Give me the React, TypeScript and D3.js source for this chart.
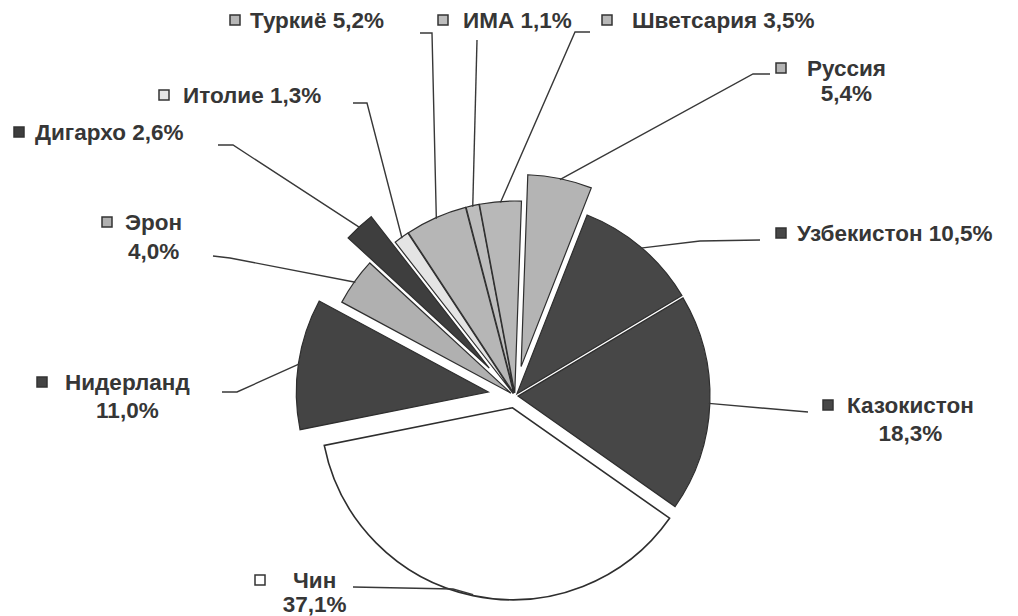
import React, { useEffect, useRef } from 'react'
import * as d3 from 'd3'

// export shares by country, %
const countries = [
  'Руссия',
  'Узбекистон',
  'Казокистон',
  'Чин',
  'Нидерланд',
  'Эрон',
  'Дигархо',
  'Итолие',
  'Туркиё',
  'ИМА',
  'Шветсария',
]
const shares = [5.4, 10.5, 18.3, 37.1, 11.0, 4.0, 2.6, 1.3, 5.2, 1.1, 3.5]

// styling per slice
const fills = ['#b4b4b4', '#474747', '#474747', '#ffffff', '#444444', '#b0b0b0', '#3e3e3e', '#e4e4e4', '#b6b6b6', '#bdbdbd', '#b8b8b8']
const explode = [30, 3, 3, 12, 27, 5, 38, 3, 3, 3, 3]

// label placement: marker x, text start x, first line center y, line gap, leader points from label side
const labelLayout = [
  { mx: 781, tx: 807, ty: 68, gap: 25, lead: [[770, 74], [753, 74]] },
  { mx: 781, tx: 797, ty: 233, gap: 0, lead: [[760, 240], [700, 241]] },
  { mx: 828, tx: 847, ty: 405, gap: 28, lead: [[808, 412]] },
  { mx: 260, tx: 293, ty: 580, gap: 24, lead: [[353, 587], [453, 589]] },
  { mx: 42, tx: 65, ty: 382, gap: 28, lead: [[222, 392], [237, 392]] },
  { mx: 107, tx: 125, ty: 222, gap: 29, lead: [[213, 256], [230, 258]] },
  { mx: 19, tx: 35, ty: 132, gap: 0, lead: [[218, 145], [233, 145]] },
  { mx: 164, tx: 183, ty: 95, gap: 0, lead: [[353, 103], [367, 103]] },
  { mx: 235, tx: 250, ty: 20, gap: 0, lead: [[420, 33], [432, 33]] },
  { mx: 443, tx: 463, ty: 20, gap: 0, lead: [[477, 40]] },
  { mx: 607, tx: 632, ty: 20, gap: 0, lead: [[590, 32], [575, 32]] },
]

const fmt = (v: number) => d3.format('.1f')(v).replace('.', ',') + '%'

function App() {
  const ref = useRef<SVGSVGElement>(null)

  useEffect(() => {
    const svg = d3.select(ref.current)
    svg.selectAll('*').remove()

    const cx = 515
    const cy = 396
    const R = 192
    const start = (2 * Math.PI) / 180

    const pie = d3
      .pie<number>()
      .sort(null)
      .value((d) => d)
      .startAngle(start)
      .endAngle(start + 2 * Math.PI)
    const arcs = pie(shares)
    const arcGen = d3.arc<d3.PieArcDatum<number>>().innerRadius(0).outerRadius(R)

    svg.append('rect').attr('width', 1018).attr('height', 616).attr('fill', '#ffffff')

    const ends: [number, number][] = []
    const pieG = svg.append('g')
    arcs.forEach((a, i) => {
      const mid = (a.startAngle + a.endAngle) / 2
      const dx = Math.sin(mid) * explode[i]
      const dy = -Math.cos(mid) * explode[i]
      pieG
        .append('path')
        .attr('d', arcGen(a))
        .attr('transform', `translate(${cx + dx},${cy + dy})`)
        .attr('fill', fills[i])
        .attr('stroke', '#2e2e2e')
        .attr('stroke-width', i === 3 ? 1.6 : 1.2)
        .attr('stroke-linejoin', 'miter')
      ends.push([cx + dx + Math.sin(mid) * (R - 1), cy + dy - Math.cos(mid) * (R - 1)])
    })

    // leader lines
    const line = d3.line()
    labelLayout.forEach((l, i) => {
      const pts = [...l.lead, ends[i]] as [number, number][]
      svg
        .append('path')
        .attr('d', line(pts))
        .attr('fill', 'none')
        .attr('stroke', '#383838')
        .attr('stroke-width', 1.4)
    })

    // labels
    const lbl = svg
      .append('g')
      .attr('font-family', '"Liberation Sans", Arial, sans-serif')
      .attr('font-weight', 'bold')
      .attr('font-size', 22.5)
      .attr('fill', '#363636')

    labelLayout.forEach((l, i) => {
      lbl
        .append('rect')
        .attr('x', l.mx - 5)
        .attr('y', l.ty - 5)
        .attr('width', 10)
        .attr('height', 10)
        .attr('fill', i === 3 ? '#ffffff' : fills[i])
        .attr('stroke', '#333')
        .attr('stroke-width', 1.5)

      const split = l.gap > 0
      const first = lbl
        .append('text')
        .attr('x', l.tx)
        .attr('y', l.ty)
        .attr('dy', '0.36em')
        .text(split ? countries[i] : `${countries[i]} ${fmt(shares[i])}`)

      if (split) {
        const w = (first.node() as SVGTextElement).getComputedTextLength()
        lbl
          .append('text')
          .attr('x', l.tx + w / 2)
          .attr('y', l.ty + l.gap)
          .attr('dy', '0.36em')
          .attr('text-anchor', 'middle')
          .text(fmt(shares[i]))
      }
    })
  }, [])

  return (
    <svg
      ref={ref}
      width={1018}
      height={616}
      style={{ position: 'absolute', left: 0, top: 0, display: 'block' }}
    ></svg>
  )
}

export default App
